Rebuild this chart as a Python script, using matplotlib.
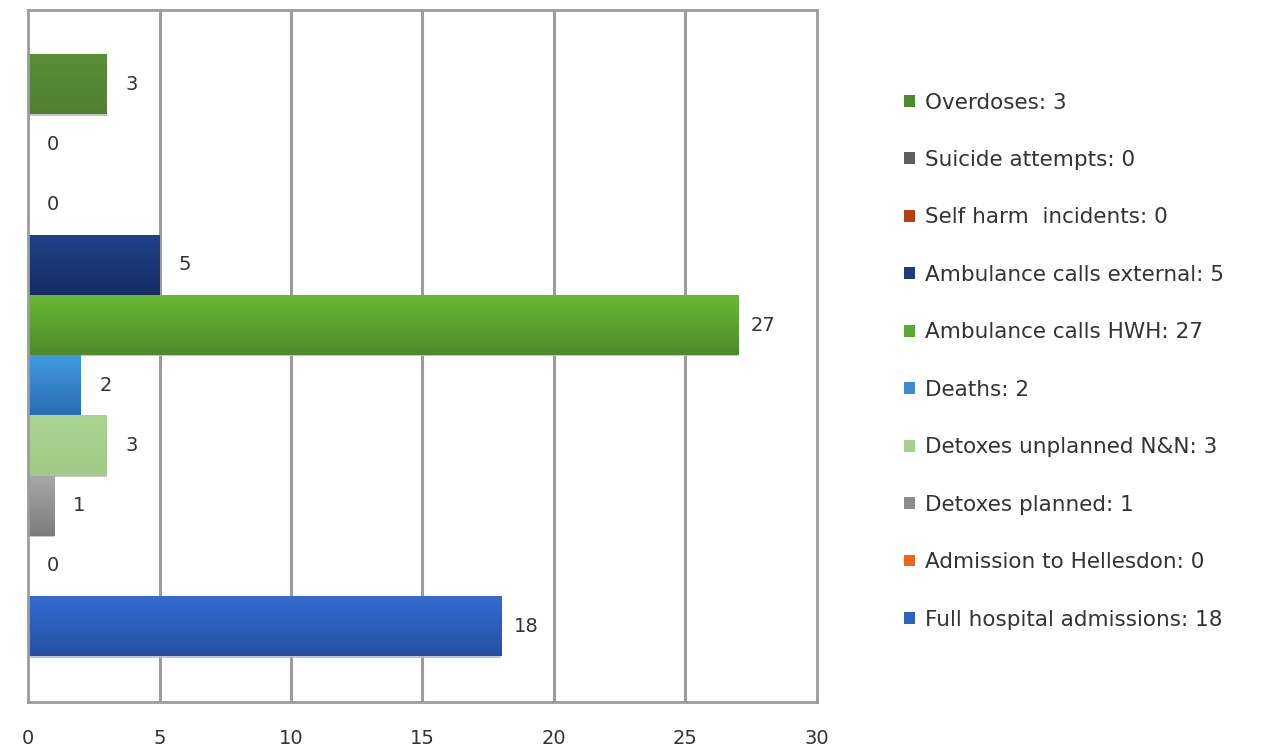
import numpy as np
import matplotlib
matplotlib.use("Agg")
import matplotlib.pyplot as plt
from matplotlib.colors import LinearSegmentedColormap
from matplotlib.patches import Patch

# Incident categories, listed top to bottom
categories = [
    "Overdoses",
    "Suicide attempts",
    "Self harm  incidents",
    "Ambulance calls external",
    "Ambulance calls HWH",
    "Deaths",
    "Detoxes unplanned N&N",
    "Detoxes planned",
    "Admission to Hellesdon",
    "Full hospital admissions",
]
counts = [3, 0, 0, 5, 27, 2, 3, 1, 0, 18]

# (top shade, bottom shade) for each bar's vertical gradient
colors_top = ["#5a8f38", "#666666", "#b8470f", "#1f4289", "#69b936",
              "#419ae2", "#abd391", "#a8a8a8", "#ec6c1d", "#346cd2"]
colors_bot = ["#4f8030", "#555555", "#a23c0c", "#162c63", "#4e8a29",
              "#2a6db2", "#a1ca86", "#7d7d7d", "#d85c12", "#2450a3"]
legend_colors = ["#4f8a32", "#5f5f5f", "#b3420e", "#1b3c80", "#5aa832",
                 "#3a8ad6", "#a8d08d", "#8c8c8c", "#e8671a", "#2d62c4"]

x_ticks = [0, 5, 10, 15, 20, 25, 30]

fig = plt.figure(figsize=(12.68, 7.56), dpi=100)
ax = fig.add_axes([0.0221, 0.0714, 0.6222, 0.9153])

n = len(categories)
ypos = np.arange(n)[::-1]  # first category at the top

grid_col = "#9c9c9c"
for xv in x_ticks[1:-1]:
    ax.axvline(xv, color=grid_col, lw=2.2, zorder=0)

bars = ax.barh(ypos, counts, height=1.0, color=legend_colors, zorder=2,
               edgecolor="none")

# vertical gradient fill clipped to each bar (lighter at the top)
grad = np.linspace(0, 1, 256).reshape(-1, 1)
for bar, ct, cb in zip(bars, colors_top, colors_bot):
    w = bar.get_width()
    if w <= 0:
        continue
    x0, y0, h = bar.get_x(), bar.get_y(), bar.get_height()
    cmap = LinearSegmentedColormap.from_list("g", [ct, cb])
    im = ax.imshow(grad[::-1], extent=[x0, x0 + w, y0, y0 + h], aspect="auto",
                   cmap=cmap, zorder=3, origin="lower")
    im.set_clip_path(bar)
    # soft shadow under the bar
    ax.plot([x0, x0 + w], [y0 - 0.005, y0 - 0.005], color="#bbbbbb",
            lw=1.2, zorder=1.5, solid_capstyle="butt")

for y, v in zip(ypos, counts):
    ax.annotate(str(v), xy=(v, y), xytext=(18, 0), textcoords="offset points",
                ha="center", va="center", fontsize=14, color="#333333",
                zorder=5)

ax.set_xlim(0, 30)
ax.set_ylim(-1.26, n - 1 + 1.23)
ax.set_xticks(x_ticks)
ax.set_xticklabels([str(t) for t in x_ticks], fontsize=14, color="#333333")
ax.set_yticks([])
ax.tick_params(axis="x", length=0, pad=19.5)

for sp in ax.spines.values():
    sp.set_color(grid_col)
    sp.set_linewidth(2.0)
    sp.set_zorder(4)

handles = [Patch(facecolor=c, edgecolor="none") for c in legend_colors]
labels = [f"{c}: {v}" for c, v in zip(categories, counts)]
fig.legend(handles, labels, loc="upper left", bbox_to_anchor=(0.7065, 0.889),
           frameon=False, fontsize=15.5, handlelength=0.47, handleheight=0.47,
           handletextpad=0.5, labelspacing=1.74, borderaxespad=0,
           labelcolor="#333333")

fig.savefig("out.png", dpi=100, facecolor="white")
